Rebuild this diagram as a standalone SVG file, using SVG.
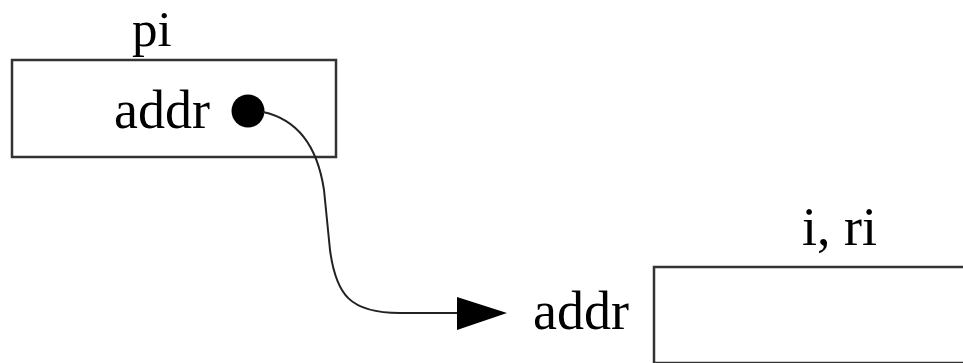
<svg xmlns="http://www.w3.org/2000/svg" width="963" height="363" viewBox="0 0 963 363">
<style>
.box{fill:#fff;stroke:#333;stroke-width:2.5}
.t{font-family:"Liberation Serif","Times New Roman",serif;font-size:54px;fill:#000}
.conn{fill:none;stroke:#222;stroke-width:2}
</style>
<rect width="963" height="363" fill="#fff"/>
<g id="node-pi">
<rect class="box" x="12" y="60" width="324" height="97"/>
<text class="t" x="132" y="46" style="font-size:51px">pi</text>
<text class="t" x="114" y="128">addr</text>
<circle cx="248" cy="111" r="16.5" fill="#000"/>
</g>
<g id="node-i-ri">
<rect class="box" x="654" y="267" width="340" height="96"/>
<text class="t" x="802" y="245">i, ri</text>
<text class="t" x="533" y="329">addr</text>
</g>
<g id="connectors">
<path class="conn" d="M 263,112 C 300,120 318,150 324,190 L 330,250 C 336,295 350,313 400,313 L 458,313"/>
<polygon points="457,297 507,313 457,330" fill="#000"/>
</g>
</svg>
